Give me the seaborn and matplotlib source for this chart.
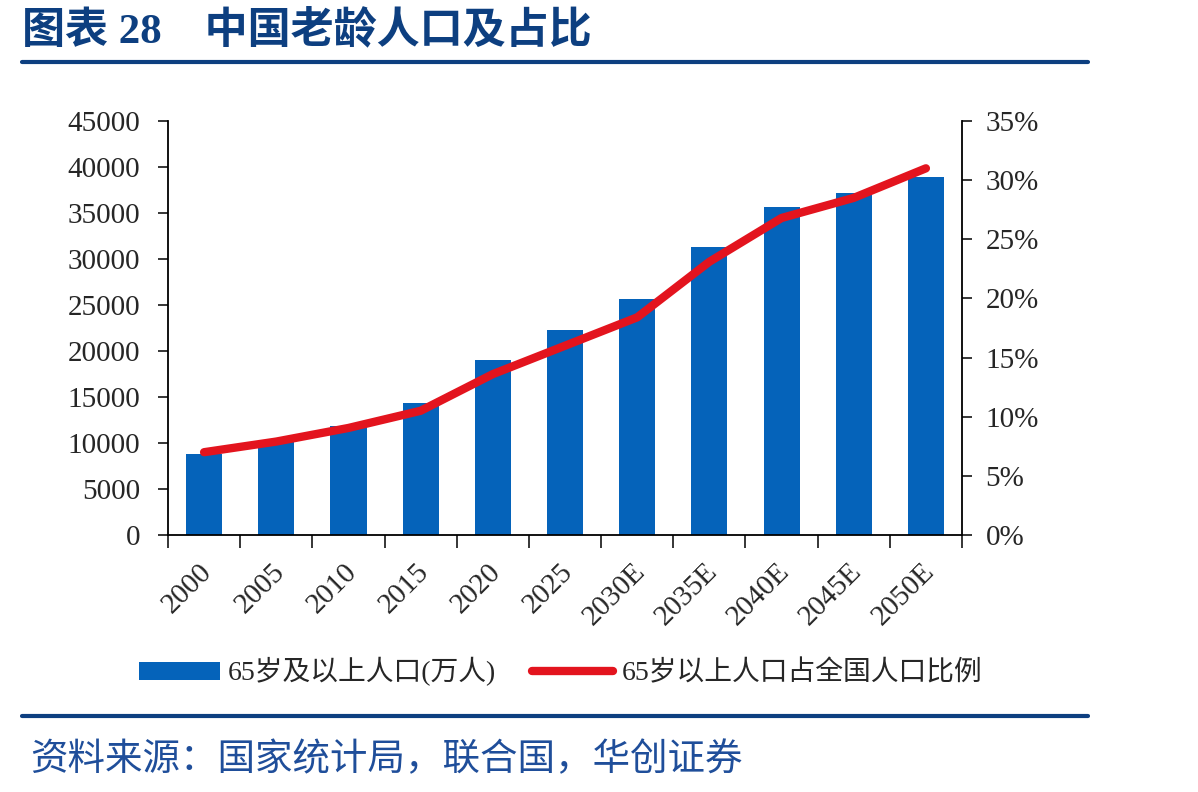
import numpy as np
import pandas as pd
import matplotlib
matplotlib.use("Agg")
import matplotlib.pyplot as plt
import matplotlib.transforms as mtrans
import seaborn as sns
from matplotlib.lines import Line2D
from matplotlib.patches import Patch
from matplotlib.ticker import FuncFormatter, MultipleLocator, FixedLocator

# Data
years = ['2000', '2005', '2010', '2015', '2020', '2025',
         '2030E', '2035E', '2040E', '2045E', '2050E']
pop_65 = [8821, 10055, 11894, 14386, 19064, 22300,
          25600, 31300, 35700, 37200, 38900]   # 万人
share_65 = [7.0, 7.9, 9.05, 10.5, 13.6, 16.0,
            18.4, 23.1, 26.8, 28.5, 31.0]      # %

BLUE = '#0563BA'
RED = '#E3141E'
NAVY = '#0d3f80'

sns.set_style('ticks')
plt.rcParams['font.family'] = ['Liberation Serif', 'Noto Sans CJK SC']
plt.rcParams['axes.unicode_minus'] = False

df = pd.DataFrame({'year': years, 'pop': pop_65, 'share': share_65})
df['pos'] = np.arange(len(df))

fig = plt.figure(figsize=(11.98, 7.92), dpi=100)
ax = fig.add_axes([168 / 1198, 1 - 535 / 792, (962 - 168) / 1198, (535 - 121) / 792])

sns.barplot(data=df, x='year', y='pop', color=BLUE, width=0.5,
            saturation=1, ax=ax, edgecolor='none')
ax.set_xlim(-0.5, len(years) - 0.5)
ax.set_ylim(0, 45000)
ax.yaxis.set_major_locator(MultipleLocator(5000))
ax.set_xlabel('')
ax.set_ylabel('')

ax2 = ax.twinx()
sns.lineplot(data=df, x='pos', y='share', color=RED, linewidth=6,
             ax=ax2, solid_capstyle='round')
ax2.set_ylim(0, 35)
ax2.yaxis.set_major_locator(MultipleLocator(5))
ax2.yaxis.set_major_formatter(FuncFormatter(lambda v, p: f'{v:.0f}%'))
ax2.set_xlim(-0.5, len(years) - 0.5)
ax2.set_ylabel('')
ax2.set_xlabel('')

for a in (ax, ax2):
    a.spines['top'].set_visible(False)
    for s in ('left', 'right', 'bottom'):
        a.spines[s].set_color('black')
        a.spines[s].set_linewidth(1.3)

ax.spines['right'].set_visible(False)
ax2.spines['left'].set_visible(False)
ax2.spines['bottom'].set_visible(False)

# x ticks: labels at centers, marks at category boundaries
ax.set_xticks(np.arange(len(years)))
ax.set_xticklabels(years, rotation=45, ha='right', va='top',
                   rotation_mode='anchor', fontsize=21)
ax.tick_params(axis='x', which='major', length=0, pad=17)
ax.xaxis.set_minor_locator(FixedLocator(np.arange(-0.5, len(years), 1.0)))
ax.tick_params(axis='x', which='minor', length=9, width=1.3, direction='out')

# nudge x labels a little to the left
offset = mtrans.ScaledTranslation(-5 / 100, 0, fig.dpi_scale_trans)
for lbl in ax.get_xticklabels():
    lbl.set_transform(lbl.get_transform() + offset)

ax.tick_params(axis='y', length=7, width=1.3, direction='out', labelsize=21, pad=13)
ax2.tick_params(axis='y', length=7, width=1.3, direction='out', labelsize=21, pad=10)
ax.yaxis.set_major_formatter(FuncFormatter(lambda v, p: f'{v:.0f}'))

# Legend
handles = [Patch(facecolor=BLUE, edgecolor='none'),
           Line2D([0], [0], color=RED, linewidth=6, solid_capstyle='round')]
labels = ['65岁及以上人口(万人)', '65岁以上人口占全国人口比例']
fig.legend(handles, labels, loc='center', bbox_to_anchor=(0.468, 1 - 672 / 792),
           ncol=2, frameon=False, fontsize=20, handlelength=2.9,
           handleheight=0.6, columnspacing=1.3, handletextpad=0.3)

# Title and rules
fig.text(22 / 1198, 1 - 30 / 792, '图表 28    中国老龄人口及占比', fontsize=31,
         fontweight='bold', color=NAVY, ha='left', va='center')
fig.add_artist(Line2D([22 / 1198, 1088 / 1198], [1 - 62 / 792] * 2,
                      color=NAVY, linewidth=3))
fig.add_artist(Line2D([22 / 1198, 1088 / 1198], [1 - 716 / 792] * 2,
                      color=NAVY, linewidth=3))
fig.text(30 / 1198, 1 - 760 / 792, '资料来源：国家统计局，联合国，华创证券', fontsize=27,
         style='italic', color='#1f4e9a', ha='left', va='center')

fig.savefig('out.png', dpi=100)
